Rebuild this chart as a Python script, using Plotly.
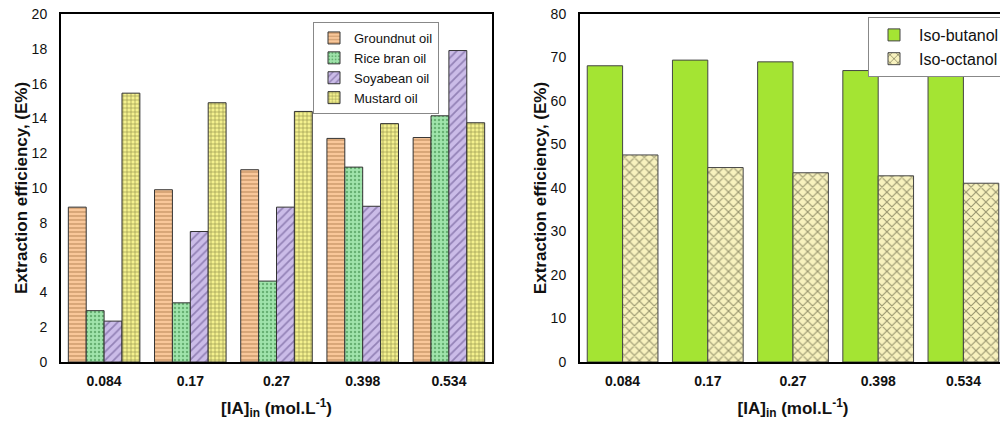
import plotly.graph_objects as go

categories = ["0.084", "0.17", "0.27", "0.398", "0.534"]

groundnut = [8.9, 9.9, 11.05, 12.85, 12.9]
rice_bran = [2.95, 3.4, 4.65, 11.2, 14.15]
soyabean = [2.35, 7.5, 8.9, 8.95, 17.9]
mustard = [15.45, 14.9, 14.4, 13.7, 13.75]

iso_butanol = [68.1, 69.4, 69.0, 67.0, 66.6]
iso_octanol = [47.6, 44.7, 43.5, 42.8, 41.1]

left_ticks = [0, 2, 4, 6, 8, 10, 12, 14, 16, 18, 20]
right_ticks = [0, 10, 20, 30, 40, 50, 60, 70, 80]

FONT = "Liberation Sans, Arial, sans-serif"
W, H = 1020, 423

def px_x(p):
    return p / W

def px_y(p):
    return 1 - p / H

fig = go.Figure()

left_series = [
    ("Groundnut oil", groundnut, "#F9C79A", "#8B5A2B", "-", 4),
    ("Rice bran oil", rice_bran, "#A0E4AC", "#2E7D3A", ".", 4),
    ("Soyabean oil", soyabean, "#CBBCE8", "#5B4784", "/", 6),
    ("Mustard oil", mustard, "#F4F18E", "#3B3B10", "+", 4),
]
for name, vals, bg, fg, shape, size in left_series:
    fig.add_trace(go.Bar(
        x=categories, y=vals, name=name, xaxis="x", yaxis="y", legend="legend",
        marker=dict(color=bg, line=dict(color="#333333", width=1),
                    pattern=dict(shape=shape, fgcolor=fg, bgcolor=bg, size=size, solidity=0.3)),
    ))

fig.add_trace(go.Bar(
    x=categories, y=iso_butanol, name="Iso-butanol", xaxis="x2", yaxis="y2", legend="legend2",
    marker=dict(color="#A4E433", line=dict(color="#444444", width=1)),
))
fig.add_trace(go.Bar(
    x=categories, y=iso_octanol, name="Iso-octanol", xaxis="x2", yaxis="y2", legend="legend2",
    marker=dict(color="#F8F2BE", line=dict(color="#444444", width=1),
                pattern=dict(shape="x", fgcolor="#3A3A20", bgcolor="#F8F2BE", size=7, solidity=0.3)),
))

tickfont = dict(family=FONT, size=14, color="#111111")
xtickfont = dict(family=FONT, size=14, color="#111111")
titlefont = dict(family=FONT, size=17, color="#111111")
xtitle = "<b>[IA]<sub>in</sub> (mol.L<sup>-1</sup>)</b>"
ytitle = "<b>Extraction efficiency, (E%)</b>"

ydom = [px_y(362), px_y(14)]

common_x = dict(type="category", showline=True, linewidth=2, linecolor="black",
                ticks="", tickfont=xtickfont, showgrid=False, automargin=False,
                ticklabelstandoff=5, range=[-0.5, 4.5],
                tickprefix="<b>", ticksuffix="</b>",
                title=dict(text=xtitle, font=titlefont, standoff=14))

common_y = dict(showline=True, linewidth=2, linecolor="black",
                ticks="", showgrid=False, zeroline=False, tickfont=tickfont,
                tickprefix="<b>", ticksuffix="</b>", automargin=False,
                ticklabelstandoff=9, ticklabeloverflow="allow",
                title=dict(text=ytitle, font=titlefont, standoff=0))

fig.update_layout(
    width=W, height=H,
    margin=dict(l=0, r=0, t=0, b=0),
    paper_bgcolor="white", plot_bgcolor="white",
    font=dict(family=FONT),
    barmode="group", bargap=0.17, bargroupgap=0,
    xaxis=dict(domain=[px_x(61), px_x(492)], anchor="y", mirror=True, **common_x),
    yaxis=dict(domain=ydom, anchor="x", range=[0, 20], tickvals=left_ticks,
               mirror=True, **common_y),
    xaxis2=dict(domain=[px_x(580), px_x(1006)], anchor="y2", mirror=True, **common_x),
    yaxis2=dict(domain=ydom, anchor="x2", range=[0, 80], tickvals=right_ticks,
                mirror=True, **common_y),
    legend=dict(x=px_x(313), y=px_y(22), xanchor="left", yanchor="top",
                bgcolor="white", bordercolor="#888888", borderwidth=1,
                font=dict(family=FONT, size=13, color="#111111"),
                tracegroupgap=0, itemwidth=30),
    legend2=dict(x=px_x(868), y=px_y(17), xanchor="left", yanchor="top",
                 bgcolor="white", bordercolor="#888888", borderwidth=1,
                 font=dict(family=FONT, size=16, color="#111111"),
                 tracegroupgap=0, itemwidth=40),
    showlegend=True,
)

fig.write_html("out.html", config={"displayModeBar": False},
               post_script="document.body.style.margin='0';document.body.style.overflow='hidden';")
